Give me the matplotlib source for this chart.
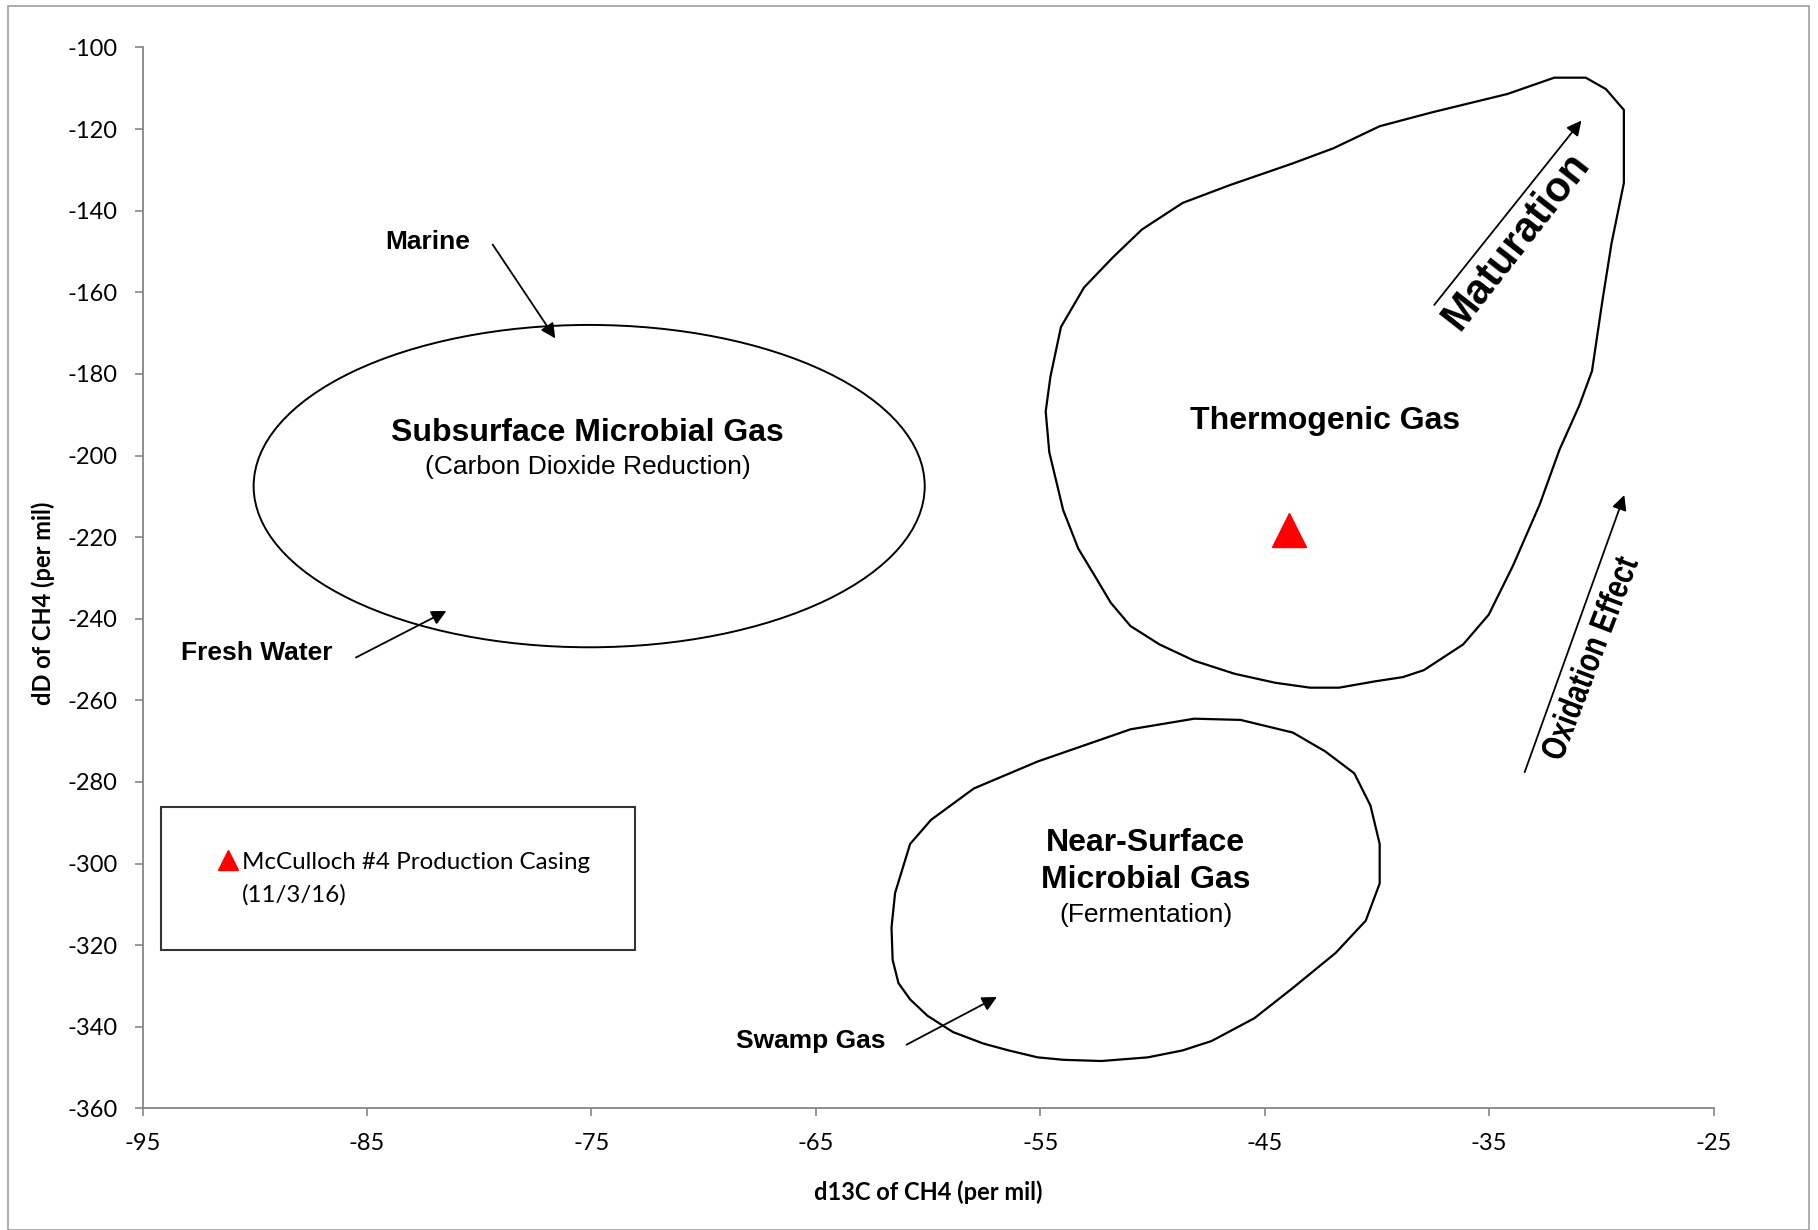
import matplotlib
matplotlib.use("Agg")
import matplotlib.pyplot as plt
from matplotlib.patches import Ellipse, Polygon, Rectangle, PathPatch
from matplotlib.lines import Line2D
from matplotlib.textpath import TextPath
from matplotlib.font_manager import FontProperties
from matplotlib.transforms import Affine2D

plt.rcParams["axes.unicode_minus"] = False

# thermogenic gas field outline (d13C, dD)
thermo_x = [-32.1, -30.7, -29.8, -29.0, -29.0, -29.55, -29.96, -30.42, -30.99, -31.87,
            -32.75, -33.94, -35.02, -36.16, -37.91, -38.84, -40.14, -41.69, -42.98, -44.53,
            -46.34, -48.14, -49.69, -50.98, -51.86, -52.53, -53.31, -53.98, -54.6, -54.76,
            -54.55, -54.08, -53.05, -51.76, -50.47, -48.66, -46.59, -43.75, -41.94, -39.88,
            -37.55, -34.19]
thermo_y = [-107.4, -107.4, -110.2, -115.3, -133.2, -148.0, -162.2, -179.3, -187.8, -198.6,
            -212.0, -227.0, -239.0, -246.3, -252.6, -254.3, -255.4, -256.9, -256.9, -255.7,
            -253.5, -250.3, -246.3, -241.8, -236.1, -229.9, -222.8, -213.4, -199.2, -189.2,
            -180.7, -168.5, -158.8, -151.4, -144.6, -138.1, -133.8, -128.4, -124.7, -119.3,
            -115.9, -111.4]

# near-surface microbial gas outline
near_x = [-48.14, -46.08, -43.75, -42.31, -41.01, -40.29, -39.88, -39.88, -40.5, -41.84,
          -43.75, -45.46, -47.37, -48.66, -50.21, -52.28, -53.98, -55.12, -56.41, -57.55,
          -58.89, -60.03, -60.8, -61.32, -61.58, -61.63, -61.47, -60.8, -59.87, -57.96,
          -55.12, -50.98]
near_y = [-264.5, -264.8, -267.9, -272.5, -277.9, -285.8, -295.2, -304.9, -314.0, -321.9,
          -330.5, -337.9, -343.5, -345.8, -347.5, -348.4, -348.1, -347.5, -345.8, -344.1,
          -341.3, -337.3, -333.3, -329.3, -323.6, -315.7, -307.2, -295.2, -289.3, -281.6,
          -275.0, -267.1]

# subsurface microbial gas field (ellipse)
sub_center = (-75.1, -207.5)
sub_width = 29.9
sub_height = 79.0

# sample
sample_x = [-43.9]
sample_y = [-218.2]
sample_label = ["McCulloch #4 Production Casing", "(11/3/16)"]

xticks = [-95, -85, -75, -65, -55, -45, -35, -25]
yticks = list(range(-360, -99, 20))

fig = plt.figure(figsize=(18.18, 12.3), dpi=100)
ax = fig.add_axes([0.0784, 0.0989, 0.8642, 0.8625])

# chart-area border
fig.patches.append(Rectangle((0.0044, 0.0), 0.9906, 0.995, transform=fig.transFigure,
                             fill=False, edgecolor="#a0a0a0", lw=1.2))

ax.add_patch(Polygon(list(zip(thermo_x, thermo_y)), closed=True, fill=False, ec="black", lw=1.6))
ax.add_patch(Polygon(list(zip(near_x, near_y)), closed=True, fill=False, ec="black", lw=1.6))
ax.add_patch(Ellipse(sub_center, sub_width, sub_height, fill=False, ec="black", lw=1.4))

pt, = ax.plot(sample_x, sample_y, "^", color="red", markersize=25, linestyle="none")

bold = dict(family="Liberation Sans", fontweight="bold", ha="center", va="center")
reg = dict(family="Liberation Sans", ha="center", va="center")

ax.text(-75.16, -194.6, "Subsurface Microbial Gas", fontsize=23, **bold)
ax.text(-75.16, -202.9, "(Carbon Dioxide Reduction)", fontsize=19, **reg)
ax.text(-42.31, -191.5, "Thermogenic Gas", fontsize=23, **bold)
ax.text(-50.31, -294.9, "Near-Surface", fontsize=23, **bold)
ax.text(-50.31, -304.0, "Microbial Gas", fontsize=23, **bold)
ax.text(-50.31, -312.6, "(Fermentation)", fontsize=19, **reg)

arrow = dict(arrowstyle="-|>", color="black", lw=1.3, mutation_scale=22, shrinkA=0, shrinkB=0)
ax.annotate("", xy=(-76.61, -171.3), xytext=(-79.4, -148.3), arrowprops=arrow)
ax.text(-82.29, -147.7, "Marine", fontsize=19, **bold)
ax.annotate("", xy=(-81.46, -238.1), xytext=(-85.49, -249.5), arrowprops=arrow)
ax.text(-89.89, -248.3, "Fresh Water", fontsize=19, **bold)
ax.annotate("", xy=(-56.93, -332.7), xytext=(-60.96, -344.4), arrowprops=arrow)
ax.text(-65.24, -343.5, "Swamp Gas", fontsize=19, **bold)

ax.annotate("", xy=(-30.89, -117.9), xytext=(-37.45, -163.1), arrowprops=arrow)
ax.text(-33.8, -147.6, "Maturation", fontsize=30, rotation=52, rotation_mode="anchor", **bold)
ax.annotate("", xy=(-28.98, -209.7), xytext=(-33.42, -277.6), arrowprops=arrow)

ax.set_xlim(-95, -25)
ax.set_ylim(-360, -100)


def narrow_text(x, y, s, size_px, angle, squeeze=0.8):
    # condensed bold label (no narrow font installed), drawn as a path in pixels
    tp = TextPath((0, 0), s, size=size_px,
                  prop=FontProperties(family="Liberation Sans", weight="bold"))
    ext = tp.get_extents()
    cx, cy = ax.transData.transform((x, y))
    tr = (Affine2D().translate(-(ext.x0 + ext.x1) / 2, -(ext.y0 + ext.y1) / 2)
          .scale(squeeze, 1.0).rotate_deg(angle).translate(cx, cy))
    ax.add_patch(PathPatch(tr.transform_path(tp), transform=None, fc="black", ec="none"))


narrow_text(-30.58, -249.5, "Oxidation Effect", 35, 69)

ax.set_xticks(xticks)
ax.set_yticks(yticks)
for s in ["top", "right"]:
    ax.spines[s].set_visible(False)
for s in ["left", "bottom"]:
    ax.spines[s].set_color("#868686")
    ax.spines[s].set_linewidth(1.3)
ax.tick_params(colors="#868686", length=6, width=1.2, pad=12, labelcolor="black", labelsize=17)
for lab in ax.get_xticklabels() + ax.get_yticklabels():
    lab.set_family("Lato")

ax.set_xlabel("d13C of CH4 (per mil)", family="Lato", fontweight="bold", fontsize=17)
ax.set_ylabel("dD of CH4 (per mil)", family="Lato", fontweight="bold", fontsize=17)
ax.xaxis.set_label_coords(0.5004, -0.0675)
ax.yaxis.set_label_coords(-0.0554, 0.476)

blank = Line2D([], [], linestyle="none", marker="none")
leg = ax.legend([pt, blank], sample_label, loc="upper left", bbox_to_anchor=(0.0118, 0.284),
                borderaxespad=0, prop=dict(family="Lato", size=17.4),
                frameon=True, fancybox=False, edgecolor="black", borderpad=1.85,
                labelspacing=0.45, handlelength=1.8, handletextpad=-0.3, markerscale=0.6)
leg.get_frame().set_linewidth(1.5)

fig.savefig("out.png", dpi=100)
